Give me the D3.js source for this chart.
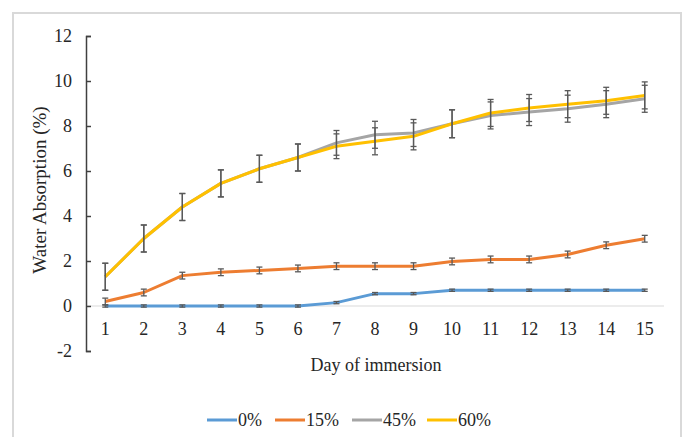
<!DOCTYPE html>
<html>
<head>
<meta charset="utf-8">
<script src="https://cdn.jsdelivr.net/npm/d3@7"></script>
<style>
  body { margin: 0; background: #fff; }
  text { font-family: "Liberation Serif", "Times New Roman", serif; fill: #262626; }
</style>
</head>
<body>
<div id="chart"></div>
<script>
var days = [1,2,3,4,5,6,7,8,9,10,11,12,13,14,15];
var yTicks = [-2,0,2,4,6,8,10,12];
var seriesNames = ["0%","15%","45%","60%"];
var seriesColors = ["#5b9bd5","#ed7d31","#a5a5a5","#ffc000"];

var v0  = [0,0,0,0,0,0,0.15,0.55,0.55,0.7,0.7,0.7,0.7,0.7,0.7];
var v15 = [0.2,0.6,1.35,1.5,1.58,1.67,1.77,1.77,1.77,1.98,2.07,2.07,2.29,2.7,2.99];
var v45 = [1.3,3.0,4.4,5.45,6.1,6.6,7.25,7.61,7.69,8.1,8.47,8.62,8.77,8.97,9.21];
var v60 = [1.3,3.0,4.4,5.45,6.1,6.6,7.1,7.32,7.54,8.1,8.58,8.8,8.97,9.12,9.36];

var e0  = [0.05,0.05,0.05,0.05,0.05,0.05,0.05,0.05,0.05,0.05,0.05,0.05,0.05,0.05,0.05];
var e15 = [0.15,0.15,0.15,0.15,0.15,0.15,0.15,0.15,0.15,0.15,0.15,0.15,0.15,0.15,0.15];
var e45 = [0.6,0.6,0.6,0.6,0.6,0.6,0.55,0.6,0.6,0.62,0.6,0.6,0.6,0.6,0.6];
var e60 = [0.6,0.6,0.6,0.6,0.6,0.6,0.55,0.6,0.6,0.62,0.6,0.6,0.6,0.6,0.6];

var values = [v0, v15, v45, v60];
var errors = [e0, e15, e45, e60];

var svg = d3.select("#chart").append("svg").attr("width", 686).attr("height", 437);

// outer frame
svg.append("rect").attr("x", 13).attr("y", 13).attr("width", 668).attr("height", 440)
  .attr("fill", "none").attr("stroke", "#d9d9d9").attr("stroke-width", 2);

var x = d3.scalePoint().domain(days).range([86, 664]).padding(0.5);
var y = d3.scaleLinear().domain([-2, 12]).range([351, 36]);

// horizontal axis line at zero
svg.append("line").attr("x1", 86).attr("x2", 664).attr("y1", y(0)).attr("y2", y(0))
  .attr("stroke", "#d9d9d9").attr("stroke-width", 1);

// y axis
var yAxis = svg.append("g").attr("transform", "translate(86,0)")
  .call(d3.axisLeft(y).tickValues(yTicks).tickSize(-5).tickPadding(14)
    .tickFormat(function(d) { return String(d); }));
yAxis.attr("font-family", null);
yAxis.select(".domain").attr("stroke", "#404040").attr("stroke-width", 1.5);
yAxis.selectAll(".tick line").attr("stroke", "#404040").attr("stroke-width", 1.5);
yAxis.selectAll("text").style("font-size", "18px").attr("fill", "#262626");

// x tick labels
svg.append("g").selectAll("text").data(days).enter().append("text")
  .attr("x", function(d) { return x(d); })
  .attr("y", 335)
  .attr("text-anchor", "middle")
  .style("font-size", "18px")
  .text(function(d) { return d; });

// axis titles
svg.append("text").attr("x", 376).attr("y", 371).attr("text-anchor", "middle")
  .style("font-size", "18px").text("Day of immersion");
svg.append("text").attr("transform", "translate(46,190)rotate(-90)").attr("text-anchor", "middle")
  .style("font-size", "19px").text("Water Absorption (%)");

var line = d3.line()
  .x(function(d, i) { return x(days[i]); })
  .y(function(d) { return y(d); });

values.forEach(function(vals, s) {
  svg.append("path").datum(vals)
    .attr("d", line)
    .attr("fill", "none")
    .attr("stroke", seriesColors[s])
    .attr("stroke-width", 3)
    .attr("stroke-linejoin", "round");
});

// error bars
values.forEach(function(vals, s) {
  var g = svg.append("g").attr("stroke", "#595959").attr("stroke-width", 1.3);
  vals.forEach(function(v, i) {
    var cx = x(days[i]), top = y(v + errors[s][i]), bot = y(v - errors[s][i]);
    g.append("line").attr("x1", cx).attr("x2", cx).attr("y1", top).attr("y2", bot);
    g.append("line").attr("x1", cx - 3).attr("x2", cx + 3).attr("y1", top).attr("y2", top);
    g.append("line").attr("x1", cx - 3).attr("x2", cx + 3).attr("y1", bot).attr("y2", bot);
  });
});

// legend
var legendX = [207, 275, 352, 427];
var legend = svg.append("g");
seriesNames.forEach(function(name, s) {
  legend.append("line").attr("x1", legendX[s]).attr("x2", legendX[s] + 30)
    .attr("y1", 420).attr("y2", 420)
    .attr("stroke", seriesColors[s]).attr("stroke-width", 3);
  legend.append("text").attr("x", legendX[s] + 31).attr("y", 426)
    .style("font-size", "18px").text(name);
});
</script>
</body>
</html>
